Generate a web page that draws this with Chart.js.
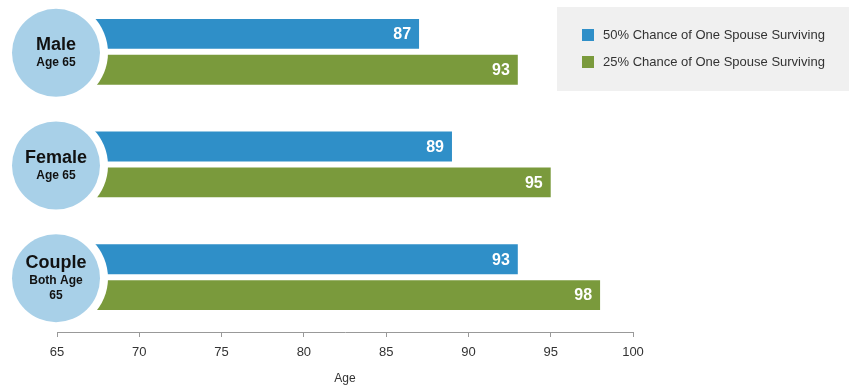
<!DOCTYPE html>
<html><head><meta charset="utf-8">
<script src="https://cdn.jsdelivr.net/npm/chart.js@4/dist/chart.umd.min.js"></script>
<style>html,body{margin:0;padding:0;background:#fff;}#wrap{width:854px;height:386px;position:relative;}</style>
</head><body><div id="wrap"><canvas id="c" width="854" height="386"></canvas></div>
<script>
const categories = ['Male', 'Female', 'Couple'];
const subLabels = [['Age 65'], ['Age 65'], ['Both Age', '65']];
const seriesNames = ['50% Chance of One Spouse Surviving', '25% Chance of One Spouse Surviving'];
const fiftyPct = [87, 89, 93];
const twentyFivePct = [93, 95, 98];
const xTicks = [65, 70, 75, 80, 85, 90, 95, 100];
const baseAge = 65;
const axisTitle = 'Age';

const colors = ['#2F8FC8', '#7A9A3C'];
const FONT = "'Liberation Sans', Arial, sans-serif";
const seriesValues = [fiftyPct, twentyFivePct];

const circlePlugin = {
  id: 'circles',
  afterDatasetsDraw(chart) {
    const ctx = chart.ctx, ys = chart.scales.y, xs = chart.scales.x;
    const cx = xs.getPixelForValue(baseAge) - 1;
    categories.forEach((cat, i) => {
      const cy = ys.getPixelForValue(i) + 1;
      ctx.save();
      ctx.beginPath(); ctx.arc(cx, cy, 52, 0, Math.PI * 2); ctx.fillStyle = '#fff'; ctx.fill();
      ctx.beginPath(); ctx.arc(cx, cy, 44, 0, Math.PI * 2); ctx.fillStyle = '#A8D0E8'; ctx.fill();
      ctx.fillStyle = '#111'; ctx.textAlign = 'center'; ctx.textBaseline = 'middle';
      const subs = subLabels[i];
      const lines = [{t: cat, f: 'bold 18px ' + FONT, h: 20}].concat(subs.map(s => ({t: s, f: 'bold 12px ' + FONT, h: 15})));
      const total = lines.reduce((a, l) => a + l.h, 0);
      let y = cy - total / 2;
      lines.forEach(l => { ctx.font = l.f; ctx.fillText(l.t, cx, y + l.h / 2); y += l.h; });
      ctx.restore();
    });
  }
};

const valuePlugin = {
  id: 'values',
  afterDatasetsDraw(chart) {
    const ctx = chart.ctx;
    ctx.save();
    ctx.font = 'bold 16px ' + FONT; ctx.fillStyle = '#fff'; ctx.textAlign = 'right'; ctx.textBaseline = 'middle';
    chart.data.datasets.forEach((ds, di) => {
      chart.getDatasetMeta(di).data.forEach((bar, i) => {
        ctx.fillText(String(seriesValues[di][i]), bar.x - 8, bar.y + 1);
      });
    });
    ctx.restore();
  }
};

const legendPlugin = {
  id: 'boxLegend',
  afterDraw(chart) {
    const ctx = chart.ctx;
    ctx.save();
    ctx.fillStyle = '#F0F0F0';
    ctx.fillRect(557, 7, 292, 84);
    ctx.font = '13px ' + FONT; ctx.textBaseline = 'middle'; ctx.textAlign = 'left';
    chart.data.datasets.forEach((ds, i) => {
      const y = 35 + i * 27;
      ctx.fillStyle = ds.backgroundColor;
      ctx.fillRect(582, y - 6, 12, 12);
      ctx.fillStyle = '#333';
      ctx.fillText(ds.label, 603, y);
    });
    ctx.restore();
  }
};

new Chart(document.getElementById('c'), {
  type: 'bar',
  data: {
    datasets: [
      {label: seriesNames[0], data: fiftyPct.map((v, i) => ({y: i, x: [baseAge, v]})), backgroundColor: colors[0]},
      {label: seriesNames[1], data: twentyFivePct.map((v, i) => ({y: i, x: [baseAge, v]})), backgroundColor: colors[1]}
    ]
  },
  options: {
    indexAxis: 'y',
    responsive: false,
    animation: false,
    devicePixelRatio: 1,
    categoryPercentage: 0.637,
    barPercentage: 0.833,
    layout: {padding: {left: 57, right: 221, top: 0, bottom: 0}},
    plugins: {legend: {display: false}, tooltip: {enabled: false}},
    scales: {
      y: {
        type: 'linear', display: false, reverse: true, offset: false, min: -0.46, max: 2.487,
        afterBuildTicks(scale) { scale.ticks = categories.map((c, i) => ({value: i})); }
      },
      x: {
        type: 'linear', min: 65, max: 100,
        afterBuildTicks(scale) { scale.ticks = xTicks.map(v => ({value: v})); },
        grid: {drawOnChartArea: false, tickLength: 5, color: '#999'},
        border: {color: '#999'},
        ticks: {color: '#333', font: {family: FONT, size: 13}, padding: 8},
        title: {display: true, text: axisTitle, color: '#333', font: {family: FONT, size: 12}, padding: {top: 3, bottom: 0}}
      }
    }
  },
  plugins: [valuePlugin, circlePlugin, legendPlugin]
});
</script></body></html>
